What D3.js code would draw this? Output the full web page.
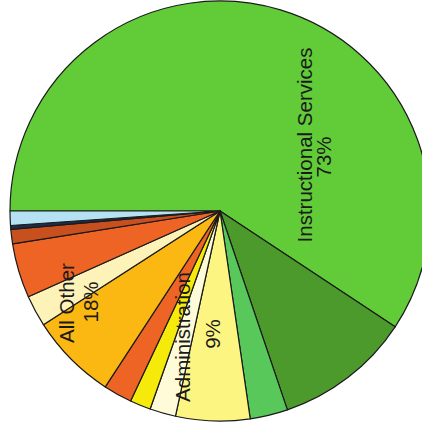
<!DOCTYPE html>
<html>
<head>
<meta charset="utf-8">
<script src="https://cdn.jsdelivr.net/npm/d3@7"></script>
<style>
html,body{margin:0;padding:0;background:#fff;}
svg{display:block;}
</style>
</head>
<body>
<svg id="chart" width="422" height="429"></svg>
<script>
// Slice data (percent of total), clockwise from 9 o'clock
const sliceNames = [
  "Instructional A", "Instructional B", "Instructional C",
  "Administration A", "Administration B", "Administration C",
  "Other A", "Other B", "Other C", "Other D", "Other E", "Other F", "Other G"
];
const sliceValues = [59.3, 10.5, 2.9, 5.7, 2.0, 1.6, 2.2, 6.7, 2.4, 4.2, 1.1, 0.3, 1.1];
const sliceColors = [
  "#62cc38", "#4c9a2c", "#58c85a",
  "#fdf582", "#fdfbd8", "#f5ea0a",
  "#ee6424", "#fbb813", "#fdf2b8", "#ee6424", "#c8501e", "#1e2c48", "#b4e2f2"
];
const groupLabels = ["Instructional Services", "Administration", "All Other"];
const groupPercents = ["73%", "9%", "18%"];

const svg = d3.select("#chart");
const cx = 220, cy = 211, R = 210;
const g = svg.append("g").attr("transform", `translate(${cx},${cy})`);

const pie = d3.pie().sort(null).value(d => d)
  .startAngle(-Math.PI / 2).endAngle(3 * Math.PI / 2);
const arc = d3.arc().innerRadius(0).outerRadius(R);
const arcs = pie(sliceValues);

g.selectAll("path.slice").data(arcs).enter().append("path")
  .attr("class", "slice")
  .attr("d", arc)
  .attr("fill", (d, i) => sliceColors[i])
  .attr("stroke", "#1a1a1a")
  .attr("stroke-width", 1.2)
  .attr("stroke-linejoin", "round");

// Labels (rotated -90deg), positions relative to page
const labelPos = [
  {x: 312, y: 145, px: 331, py: 157},
  {x: 190, y: 337, px: 220, py: 334},
  {x: 74, y: 303, px: 98, py: 302}
];
const font = "Liberation Sans, Arial, Helvetica, sans-serif";
labelPos.forEach((p, i) => {
  svg.append("text")
    .attr("transform", `translate(${p.x},${p.y}) rotate(-90)`)
    .attr("text-anchor", "middle")
    .attr("font-family", font)
    .attr("font-size", 20.5)
    .attr("fill", "#1a1a1a")
    .text(groupLabels[i]);
  svg.append("text")
    .attr("transform", `translate(${p.px},${p.py}) rotate(-90)`)
    .attr("text-anchor", "middle")
    .attr("font-family", font)
    .attr("font-size", 20.5)
    .attr("fill", "#1a1a1a")
    .text(groupPercents[i]);
});
</script>
</body>
</html>
